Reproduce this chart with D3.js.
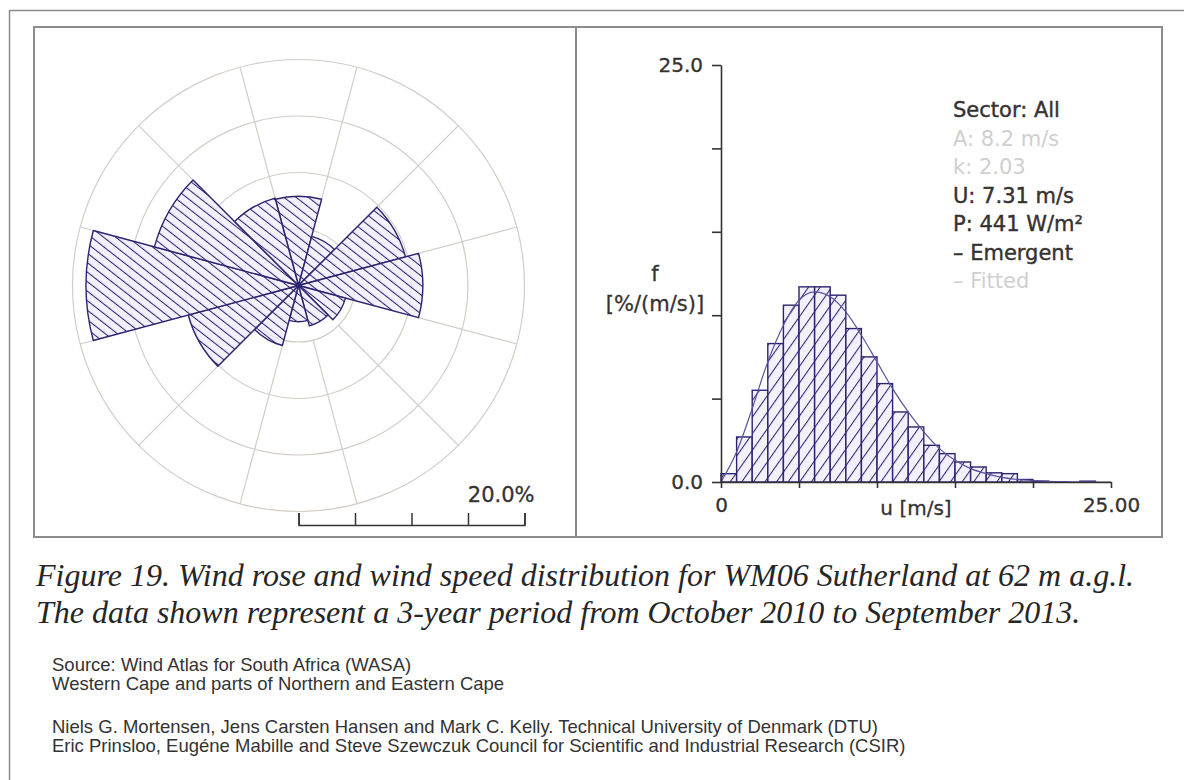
<!DOCTYPE html>
<html>
<head>
<meta charset="utf-8">
<script src="https://cdn.jsdelivr.net/npm/d3@7"></script>
<style>
  body { margin: 0; background: #fff; }
  svg { display: block; }
</style>
</head>
<body>
<svg id="chart"></svg>
<script>
// Wind rose: frequency of each 30 degree sector, clockwise from north [%]
const sectors = ["N", "NNE", "ENE", "E", "ESE", "SSE", "S", "SSW", "WSW", "W", "WNW", "NNW"];
const sectorFreq = [7.9, 4.5, 9.8, 11.0, 4.3, 3.7, 3.2, 5.5, 10.1, 18.8, 13.2, 8.0];
const roseRings = [5, 10, 15, 20];
const scaleBarTicks = [0, 5, 10, 15, 20];

// Wind speed distribution: 1 m/s bins, [%/(m/s)]
const binStart = [0, 1, 2, 3, 4, 5, 6, 7, 8, 9, 10, 11, 12, 13, 14, 15, 16, 17, 18, 19, 20, 21, 22, 23, 24];
const binFreq = [0.5, 2.7, 5.5, 8.3, 10.6, 11.7, 11.7, 11.2, 9.2, 7.5, 5.9, 4.2, 3.3, 2.2, 1.7, 1.2, 0.9, 0.55, 0.5, 0.15, 0.05, 0, 0, 0.05, 0];

// Fitted curve
const fitSpeed = [0, 1, 2, 3, 4, 5, 6, 7, 8, 9, 10, 11, 12, 13, 14, 15, 16, 17, 18, 19, 20, 21, 22, 23, 24, 25];
const fitFreq = [0, 1.8, 4.4, 7.2, 9.4, 10.9, 11.4, 11.1, 10.2, 8.8, 7.2, 5.6, 4.2, 3.0, 2.0, 1.3, 0.8, 0.5, 0.28, 0.15, 0.08, 0.04, 0.02, 0.01, 0, 0];

const yTicks = [0, 5, 10, 15, 20, 25];
const xTicks = [0, 5, 10, 15, 20, 25];

const legendLines = [
  {text: "Sector: All", muted: false},
  {text: "A: 8.2 m/s", muted: true},
  {text: "k: 2.03", muted: true},
  {text: "U: 7.31 m/s", muted: false},
  {text: "P: 441 W/m\u00b2", muted: false},
  {text: "\u2013 Emergent", muted: false},
  {text: "\u2013 Fitted", muted: true}
];

const captionLines = [
  "Figure 19. Wind rose and wind speed distribution for WM06 Sutherland at 62 m a.g.l.",
  "The data shown represent a 3-year period from October 2010 to September 2013."
];
const sourceLines = [
  "Source: Wind Atlas for South Africa (WASA)",
  "Western Cape and parts of Northern and Eastern Cape"
];
const authorLines = [
  "Niels G. Mortensen, Jens Carsten Hansen and Mark C. Kelly. Technical University of Denmark  (DTU)",
  "Eric Prinsloo, Eug\u00e9ne Mabille and Steve Szewczuk Council for Scientific and Industrial Research (CSIR)"
];

const width = 1184, height = 780;
const navy = "#2c2470", lavender = "#f0ecfb", gridColor = "#d2cdc8", textColor = "#363232";
const chartFont = "'DejaVu Sans', Verdana, sans-serif";

const svg = d3.select("#chart")
    .attr("width", width)
    .attr("height", height)
    .attr("viewBox", [0, 0, width, height])
    .style("background", "#fff");

// hatch patterns
const defs = svg.append("defs");
function hatch(id, size, angle) {
  const p = defs.append("pattern")
      .attr("id", id)
      .attr("patternUnits", "userSpaceOnUse")
      .attr("width", size)
      .attr("height", size)
      .attr("patternTransform", `rotate(${angle})`);
  p.append("rect")
      .attr("width", size)
      .attr("height", size)
      .attr("fill", lavender)
      .attr("fill-opacity", 0.75);
  p.append("line")
      .attr("x1", 0.5).attr("y1", 0)
      .attr("x2", 0.5).attr("y2", size)
      .attr("stroke", navy)
      .attr("stroke-width", 1.1);
}
hatch("hatchRose", 7.5, -52);
hatch("hatchHist", 9.5, 35);

// frames
svg.append("rect")
    .attr("x", 9.5).attr("y", 10.5)
    .attr("width", width).attr("height", height)
    .attr("fill", "none")
    .attr("stroke", "#8a8a8a")
    .attr("stroke-width", 1.5);
svg.append("rect")
    .attr("x", 34).attr("y", 27)
    .attr("width", 1128).attr("height", 510)
    .attr("fill", "#fff")
    .attr("stroke", "#8c8c8c")
    .attr("stroke-width", 2);
svg.append("line")
    .attr("x1", 576).attr("x2", 576)
    .attr("y1", 27).attr("y2", 537)
    .attr("stroke", "#8c8c8c")
    .attr("stroke-width", 2);

// ---- wind rose ----
const cx = 298.5, cy = 285.5;
const r = d3.scaleLinear().domain([0, 20]).range([0, 226]);
const step = 2 * Math.PI / sectors.length;

const rose = svg.append("g")
    .attr("transform", `translate(${cx},${cy})`);

rose.append("g")
    .attr("fill", "none")
    .attr("stroke", gridColor)
    .attr("stroke-width", 1.2)
  .selectAll("circle")
  .data(roseRings)
  .join("circle")
    .attr("r", d => r(d));

rose.append("g")
    .attr("stroke", gridColor)
    .attr("stroke-width", 1.2)
  .selectAll("line")
  .data(sectors)
  .join("line")
    .attr("x1", (d, i) => Math.sin(i * step + step / 2) * r(roseRings[0]))
    .attr("y1", (d, i) => -Math.cos(i * step + step / 2) * r(roseRings[0]))
    .attr("x2", (d, i) => Math.sin(i * step + step / 2) * r(roseRings[3]))
    .attr("y2", (d, i) => -Math.cos(i * step + step / 2) * r(roseRings[3]));

const arc = d3.arc()
    .innerRadius(0)
    .outerRadius(d => r(d.value))
    .startAngle(d => d.index * step - step / 2)
    .endAngle(d => d.index * step + step / 2);

rose.append("g")
  .selectAll("path")
  .data(sectorFreq.map((value, index) => ({value, index})))
  .join("path")
    .attr("d", arc)
    .attr("fill", "url(#hatchRose)")
    .attr("stroke", navy)
    .attr("stroke-width", 1.4)
    .attr("stroke-linejoin", "round");

// scale bar
const barScale = d3.scaleLinear().domain([0, 20]).range([cx, cx + r(20)]);
svg.append("g")
    .attr("transform", "translate(0,525)")
    .call(d3.axisTop(barScale).tickValues(scaleBarTicks).tickSize(12).tickSizeOuter(12).tickFormat(""))
    .call(g => g.selectAll("path, line").attr("stroke", "#333").attr("stroke-width", 1.5));
svg.append("text")
    .attr("x", barScale(20) + 10)
    .attr("y", 502)
    .attr("text-anchor", "end")
    .attr("font-family", chartFont)
    .attr("font-size", 21)
    .attr("fill", textColor)
    .attr("stroke", textColor)
    .attr("stroke-width", 0.3)
    .text("20.0%");

// ---- histogram ----
const x = d3.scaleLinear().domain([0, 25]).range([721, 1111]);
const y = d3.scaleLinear().domain([0, 25]).range([482, 65]);

svg.append("g")
  .selectAll("rect")
  .data(binStart.filter((d, i) => binFreq[i] > 0))
  .join("rect")
    .attr("x", d => x(d))
    .attr("y", d => y(binFreq[binStart.indexOf(d)]))
    .attr("width", d => x(d + 1) - x(d))
    .attr("height", d => y(0) - y(binFreq[binStart.indexOf(d)]))
    .attr("fill", "url(#hatchHist)")
    .attr("stroke", navy)
    .attr("stroke-width", 1.4);

const fitLine = d3.line()
    .curve(d3.curveMonotoneX)
    .x((d, i) => x(fitSpeed[i]))
    .y(d => y(d));

svg.append("path")
    .attr("d", fitLine(fitFreq))
    .attr("fill", "none")
    .attr("stroke", "#5a52a0")
    .attr("stroke-width", 1.2);

// axis text style, applied after d3 sets its defaults
const styleAxis = g => {
  g.attr("font-family", chartFont).attr("font-size", 20);
  g.selectAll("path, line").attr("stroke", "#333").attr("stroke-width", 1.6);
  g.selectAll("text").attr("fill", textColor).attr("stroke", textColor).attr("stroke-width", 0.3);
};

svg.append("g")
    .attr("transform", `translate(0,${y(0)})`)
    .call(d3.axisBottom(x).tickValues(xTicks).tickSize(6).tickSizeOuter(0).tickPadding(10)
        .tickFormat(d => d === 0 ? "0" : d === 25 ? "25.00" : ""))
    .call(styleAxis)
    .call(g => g.append("text")
        .attr("x", x(12.5))
        .attr("y", 33)
        .attr("fill", textColor)
        .attr("stroke", textColor)
        .attr("stroke-width", 0.3)
        .attr("text-anchor", "middle")
        .text("u [m/s]"));

svg.append("g")
    .attr("transform", `translate(${x(0)},0)`)
    .call(d3.axisLeft(y).tickValues(yTicks).tickSize(9).tickSizeOuter(0).tickPadding(9)
        .tickFormat(d => d === 0 || d === 25 ? d.toFixed(1) : ""))
    .call(styleAxis);

svg.append("g")
    .attr("font-family", chartFont)
    .attr("font-size", 21)
    .attr("fill", textColor)
    .attr("stroke", textColor)
    .attr("stroke-width", 0.3)
    .attr("text-anchor", "middle")
  .selectAll("text")
  .data(["f", "[%/(m/s)]"])
  .join("text")
    .attr("x", 655)
    .attr("y", (d, i) => 281 + i * 30)
    .text(d => d);

svg.append("g")
    .attr("font-family", chartFont)
    .attr("font-size", 21)
  .selectAll("text")
  .data(legendLines)
  .join("text")
    .attr("x", 953)
    .attr("y", (d, i) => 117 + i * 28.5)
    .attr("fill", d => d.muted ? "#cfcfcf" : textColor)
    .attr("stroke", d => d.muted ? "none" : textColor)
    .attr("stroke-width", 0.4)
    .text(d => d.text);

// ---- captions ----
svg.append("g")
    .attr("font-family", "'Liberation Serif', 'Times New Roman', serif")
    .attr("font-style", "italic")
    .attr("font-size", 32)
    .attr("fill", "#262626")
  .selectAll("text")
  .data(captionLines)
  .join("text")
    .attr("x", 36)
    .attr("y", (d, i) => 586 + i * 37)
    .text(d => d);

svg.append("g")
    .attr("font-family", "'Liberation Sans', Arial, sans-serif")
    .attr("font-size", 18.5)
    .attr("fill", "#333")
  .selectAll("text")
  .data(sourceLines.concat(authorLines))
  .join("text")
    .attr("x", 52)
    .attr("y", (d, i) => (i < 2 ? 671 : 695) + i * 19)
    .text(d => d);
</script>
</body>
</html>
